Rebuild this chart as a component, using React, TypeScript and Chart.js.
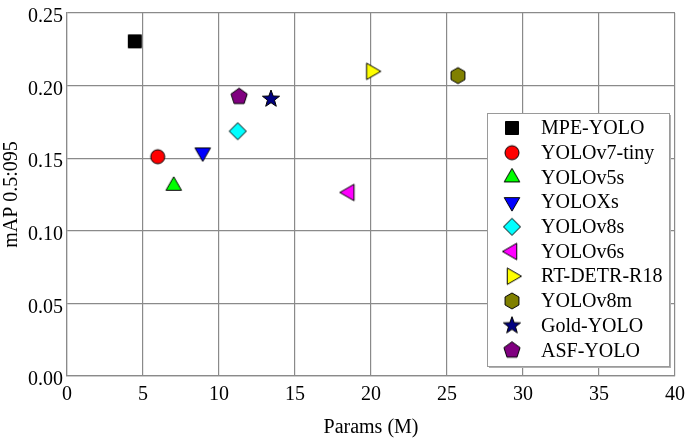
import React, { useEffect, useRef } from "react";
import { Chart, registerables } from "chart.js";

Chart.register(...registerables);

const modelNames = ["MPE-YOLO", "YOLOv7-tiny", "YOLOv5s", "YOLOXs", "YOLOv8s", "YOLOv6s", "RT-DETR-R18", "YOLOv8m", "Gold-YOLO", "ASF-YOLO"];
const paramsM = [4.46, 5.97, 7.02, 8.93, 11.23, 18.57, 20.02, 25.72, 13.42, 11.32];
const mapValues = [0.2305, 0.151, 0.131, 0.154, 0.1686, 0.1264, 0.2098, 0.2069, 0.1908, 0.1924];
const markerColors = ["#000000", "#ff0000", "#00ff00", "#0000ff", "#00ffff", "#ff00ff", "#ffff00", "#808000", "#000080", "#800080"];
const markerShapes = ["square", "circle", "triUp", "triDown", "diamond", "triLeft", "triRight", "hexagon", "star", "pentagon"];
const xTicks = [0, 5, 10, 15, 20, 25, 30, 35, 40];
const yTicks = [0, 0.05, 0.1, 0.15, 0.2, 0.25];

const FONT = "'Liberation Serif', 'Times New Roman', serif";
const GRID = "#8a8a8a";

const polygon = (ctx: CanvasRenderingContext2D, n: number, r: number, start: number) => {
    for (let k = 0; k < n; k++) {
        const a = ((start + (k * 360) / n) * Math.PI) / 180;
        const px = r * Math.cos(a);
        const py = r * Math.sin(a);
        if (k === 0) ctx.moveTo(px, py);
        else ctx.lineTo(px, py);
    }
};

const makeMarker = (shape: string, fill: string) => {
    const c = document.createElement("canvas");
    c.width = 24;
    c.height = 24;
    const ctx = c.getContext("2d")!;
    ctx.translate(12, 12);
    ctx.fillStyle = fill;
    ctx.strokeStyle = "#000000";
    ctx.lineWidth = 1;
    ctx.beginPath();
    switch (shape) {
        case "square":
            ctx.rect(-6.5, -6.5, 13, 13);
            break;
        case "circle":
            ctx.arc(0, 0, 7, 0, Math.PI * 2);
            break;
        case "triUp":
            polygon(ctx, 3, 9, -90);
            break;
        case "triDown":
            polygon(ctx, 3, 9, 90);
            break;
        case "triLeft":
            polygon(ctx, 3, 9.5, 180);
            break;
        case "triRight":
            polygon(ctx, 3, 9.5, 0);
            break;
        case "diamond":
            polygon(ctx, 4, 8.5, 0);
            break;
        case "hexagon":
            polygon(ctx, 6, 8, -90);
            break;
        case "pentagon":
            polygon(ctx, 5, 8.5, -90);
            break;
        case "star":
            for (let k = 0; k < 10; k++) {
                const r = k % 2 === 0 ? 9 : 3.7;
                const a = ((-90 + k * 36) * Math.PI) / 180;
                if (k === 0) ctx.moveTo(r * Math.cos(a), r * Math.sin(a));
                else ctx.lineTo(r * Math.cos(a), r * Math.sin(a));
            }
            break;
    }
    ctx.closePath();
    ctx.fill();
    ctx.stroke();
    return c;
};

const App = () => {
    const canvasRef = useRef<HTMLCanvasElement | null>(null);

    useEffect(() => {
        document.body.style.margin = "0";
        const ctx = canvasRef.current?.getContext("2d");
        if (!ctx) return;

        const markers = markerShapes.map((s, i) => makeMarker(s, markerColors[i]));

        // legend box drawn inside the plot, lower right
        const legendPlugin = {
            id: "insideLegend",
            afterDraw: (chart: any) => {
                const c = chart.ctx as CanvasRenderingContext2D;
                const area = chart.chartArea;
                const left = area.right - 188;
                const top = area.top + 100;
                const w = 182;
                const h = 253;
                c.save();
                c.fillStyle = "#b0b0b0";
                c.fillRect(left + 2, top + 2, w, h);
                c.fillStyle = "#ffffff";
                c.fillRect(left, top, w, h);
                c.strokeStyle = "#9a9a9a";
                c.lineWidth = 1;
                c.strokeRect(left + 0.5, top + 0.5, w, h);
                c.font = `20px ${FONT}`;
                c.fillStyle = "#000000";
                c.textBaseline = "middle";
                c.textAlign = "left";
                modelNames.forEach((name, i) => {
                    const cy = top + 15 + i * 24.7;
                    c.drawImage(markers[i], left + 25 - 12, cy - 12);
                    c.fillText(name, left + 54, cy + 1);
                });
                c.restore();
            },
        };

        const chart = new Chart(ctx, {
            type: "scatter",
            data: {
                datasets: modelNames.map((name, i) => ({
                    label: name,
                    data: [{ x: paramsM[i], y: mapValues[i] }],
                    pointStyle: markers[i],
                    backgroundColor: markerColors[i],
                    borderColor: "#000000",
                })),
            },
            options: {
                animation: false,
                responsive: false,
                devicePixelRatio: 1,
                layout: { padding: { top: 13, right: 10, left: 0, bottom: 0 } },
                plugins: {
                    legend: { display: false },
                    tooltip: { enabled: false },
                },
                scales: {
                    x: {
                        type: "linear",
                        min: xTicks[0],
                        max: xTicks[xTicks.length - 1],
                        afterBuildTicks: (s: any) => {
                            s.ticks = xTicks.map((v) => ({ value: v }));
                        },
                        afterFit: (s: any) => {
                            s.height = 64;
                            s.paddingLeft = 0;
                            s.paddingRight = 0;
                        },
                        ticks: {
                            font: { family: FONT, size: 20 },
                            color: "#000000",
                            padding: 7,
                            maxRotation: 0,
                        },
                        grid: { color: GRID, lineWidth: 1.2, drawTicks: false },
                        border: { color: GRID, width: 1.2 },
                        title: {
                            display: true,
                            text: "Params (M)",
                            font: { family: FONT, size: 20 },
                            color: "#000000",
                            padding: { top: 0, bottom: 0 },
                        },
                    },
                    y: {
                        type: "linear",
                        min: yTicks[0],
                        max: yTicks[yTicks.length - 1],
                        afterBuildTicks: (s: any) => {
                            s.ticks = yTicks.map((v) => ({ value: v }));
                        },
                        afterFit: (s: any) => {
                            s.width = 67;
                            s.paddingTop = 0;
                            s.paddingBottom = 0;
                        },
                        ticks: {
                            font: { family: FONT, size: 20 },
                            color: "#000000",
                            padding: 4,
                            labelOffset: 4,
                            callback: (v: any) => Number(v).toFixed(2),
                        },
                        grid: { color: GRID, lineWidth: 1.2, drawTicks: false },
                        border: { color: GRID, width: 1.2 },
                        title: {
                            display: true,
                            text: "mAP 0.5:095",
                            font: { family: FONT, size: 20 },
                            color: "#000000",
                            padding: { top: 0, bottom: 0 },
                        },
                    },
                },
            },
            plugins: [legendPlugin],
        });

        return () => {
            chart.destroy();
        };
    }, []);

    return (
        <div style={{ width: 685, height: 440, background: "#ffffff" }}>
            <canvas ref={canvasRef} width={685} height={440} />
        </div>
    );
};

export default App;
